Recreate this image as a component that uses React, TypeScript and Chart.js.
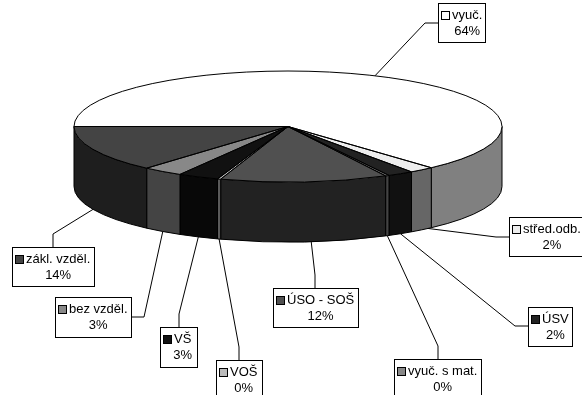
import React, { useEffect, useRef } from "react";
import { Chart, registerables } from "chart.js";

Chart.register(...registerables);

const categories = ["vyuč.", "střed.odb.", "ÚSV", "vyuč. s mat.", "ÚSO - SOŠ", "VOŠ", "VŠ", "bez vzděl.", "zákl. vzděl."];
const percentLabels = ["64%", "2%", "2%", "0%", "12%", "0%", "3%", "3%", "14%"];
const shares = [63.36, 1.89, 1.97, 0.28, 12.64, 0.25, 3.08, 3.06, 13.53];
const topColors = ["#ffffff", "#eeeeee", "#222222", "#888888", "#505050", "#bbbbbb", "#111111", "#888888", "#444444"];
const sideColors = ["#808080", "#666666", "#111111", "#444444", "#222222", "#5a5a5a", "#080808", "#444444", "#1e1e1e"];

// label box: left, top, right, bottom, elbow x, elbow y, leader start as a fraction of the slice
const boxes = [
  [438, 3, 485, 42, 425, 23, 0.5],
  [509, 217, 582, 256, 496, 237, 0.17],
  [528, 307, 572, 346, 515, 326, 0.5],
  [394, 359, 481, 400, 438, 346, 0.5],
  [273, 288, 358, 327, 315, 275, 0.46],
  [216, 360, 262, 400, 239, 347, 0.5],
  [160, 327, 197, 367, 179, 314, 0.5],
  [55, 297, 131, 337, 144, 317, 0.5],
  [12, 247, 94, 286, 53, 234, 0.5],
];

const CX = 288;
const CY = 126.5;
const RX = 214;
const RY = 55.5;
const DEPTH = 60;

const pie3d = {
  id: "pie3d",
  beforeDatasetsDraw(chart: any) {
    const ctx = chart.ctx;
    const arcs = chart.getDatasetMeta(0).data;
    ctx.save();
    ctx.lineWidth = 1;
    ctx.strokeStyle = "#000";
    arcs.forEach((arc: any, i: number) => {
      const s = Math.max(arc.startAngle, 0);
      const e = Math.min(arc.endAngle, Math.PI);
      if (e <= s) return;
      ctx.beginPath();
      ctx.ellipse(CX, CY, RX, RY, 0, s, e);
      ctx.ellipse(CX, CY + DEPTH, RX, RY, 0, e, s, true);
      ctx.closePath();
      ctx.fillStyle = sideColors[i];
      ctx.fill();
      ctx.stroke();
    });
    const a = arcs[0];
    ctx.save();
    ctx.translate(CX, CY);
    ctx.scale(RX / a.outerRadius, RY / a.outerRadius);
    ctx.translate(-a.x, -a.y);
  },
  afterDatasetsDraw(chart: any) {
    const ctx = chart.ctx;
    const arcs = chart.getDatasetMeta(0).data;
    ctx.restore();
    ctx.lineWidth = 1;
    ctx.strokeStyle = "#000";
    arcs.forEach((arc: any) => {
      ctx.beginPath();
      ctx.moveTo(CX, CY);
      ctx.ellipse(CX, CY, RX, RY, 0, arc.startAngle, arc.endAngle);
      ctx.closePath();
      ctx.stroke();
    });
    ctx.font = '13px "Liberation Sans"';
    arcs.forEach((arc: any, i: number) => {
      const [l, t, r, b, ex, ey, frac] = boxes[i];
      const mid = arc.startAngle + (arc.endAngle - arc.startAngle) * frac;
      const front = Math.sin(mid) > 0;
      const ax = CX + RX * Math.cos(mid);
      const ay = CY + RY * Math.sin(mid) + (front ? DEPTH : 0);
      const bx = ex < l ? l : ex > r ? r : ex;
      const by = ey < t ? t : ey > b ? b : ey;
      ctx.strokeStyle = "#000";
      ctx.beginPath();
      ctx.moveTo(ax, ay);
      ctx.lineTo(ex, ey);
      ctx.lineTo(bx, by);
      ctx.stroke();
      ctx.fillStyle = "#fff";
      ctx.fillRect(l + 0.5, t + 0.5, r - l, b - t);
      ctx.strokeRect(l + 0.5, t + 0.5, r - l, b - t);
      ctx.fillStyle = topColors[i];
      ctx.fillRect(l + 3.5, t + 8.5, 8, 8);
      ctx.strokeRect(l + 3.5, t + 8.5, 8, 8);
      ctx.fillStyle = "#000";
      ctx.textBaseline = "alphabetic";
      ctx.textAlign = "left";
      const w = ctx.measureText(categories[i]).width;
      ctx.fillText(categories[i], l + 14, t + 16);
      ctx.textAlign = "center";
      ctx.fillText(percentLabels[i], l + 14 + w / 2, t + 32);
    });
    ctx.restore();
  },
};

export default function App() {
  const ref = useRef<HTMLCanvasElement>(null);
  useEffect(() => {
    document.body.style.margin = "0";
    const chart = new Chart(ref.current as HTMLCanvasElement, {
      type: "pie",
      data: {
        labels: categories,
        datasets: [{ data: shares, backgroundColor: topColors, borderWidth: 0, clip: false } as any],
      },
      options: {
        responsive: false,
        animation: false,
        rotation: -90,
        plugins: { legend: { display: false }, tooltip: { enabled: false } },
      },
      plugins: [pie3d],
    } as any);
    return () => chart.destroy();
  }, []);
  return <canvas ref={ref} width={582} height={395} style={{ display: "block", background: "#fff" }} />;
}
